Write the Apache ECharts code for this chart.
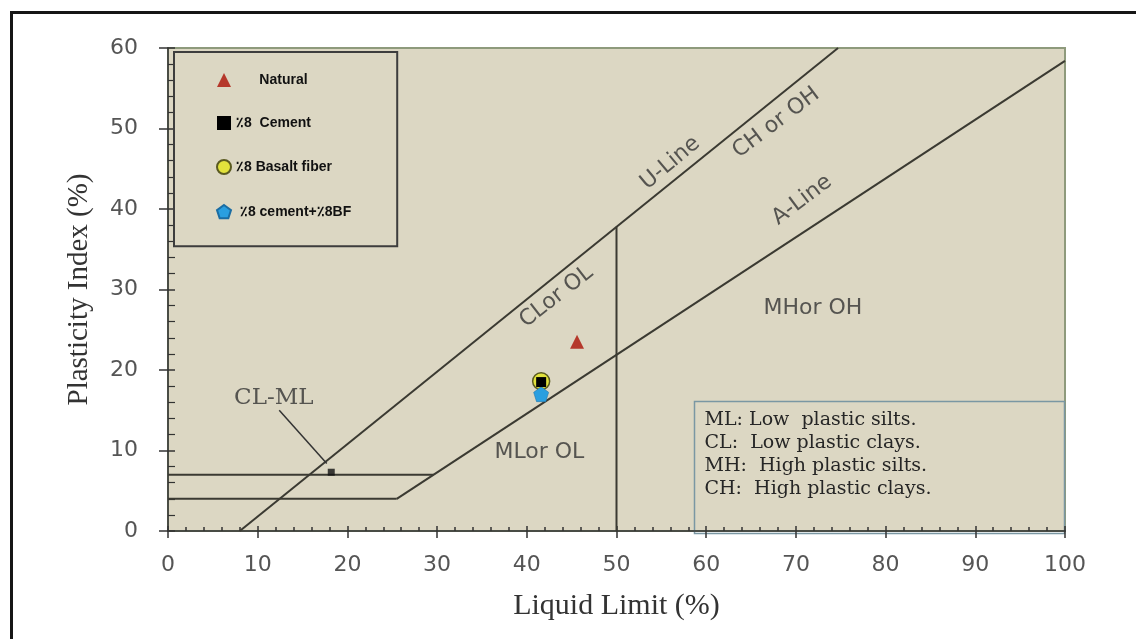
<!DOCTYPE html>
<html><head><meta charset="utf-8">
<script src="https://cdn.jsdelivr.net/npm/echarts@6/dist/echarts.min.js"></script>
<style>html,body{margin:0;padding:0;background:#fff}#c{width:1136px;height:639px}</style>
</head><body><div id="c"></div><script>
// ---- data ----
const seriesNames = ['Natural', '\u066A8  Cement', '\u066A8 Basalt fiber', '\u066A8 cement+\u066A8BF'];
const naturalPts = [[45.6, 23.5]];
const cementPts = [[41.6, 18.5]];
const basaltPts = [[41.6, 18.6]];
const cementBfPts = [[41.6, 17.0]];

// chart boundary lines (Liquid Limit, Plasticity Index)
const uLine = [[8, 0], [74.7, 60]];
const aLine = [[25.5, 4], [100, 58.4]];
const line4 = [[0, 4], [25.5, 4]];
const line7 = [[0, 7], [29.6, 7]];
const line50 = [[50, 0], [50, 37.8]];
const clmlPointer = [[12.4, 15.0], [17.7, 8.4]];
const clmlMark = [[18.2, 7.3]];

// zone labels
const zoneNames = ['U-Line', 'CH or OH', 'A-Line', 'CLor OL', 'MHor OH', 'MLor OL'];
const zoneLL = [56.0, 67.8, 70.7, 43.3, 71.9, 41.4];
const zonePI = [45.7, 50.7, 41.1, 29.1, 27.7, 9.8];
const clmlName = ['CL-ML'];
const clmlLL = [11.8];
const clmlPI = [16.5];

const definitions = ['ML: Low  plastic silts.', 'CL:  Low plastic clays.', 'MH:  High plastic silts.', 'CH:  High plastic clays.'];

// ---- styles ----
const zoneRotate = [40, 37, 37, 38, 0, 0];
const lineColor = '#3b3a32';
const pentagon = 'path://M50,0 L97.6,34.5 L79.4,90.5 L20.6,90.5 L2.4,34.5 Z';

const chart = echarts.init(document.getElementById('c'), null, {renderer: 'canvas'});

function lineSeries(data) {
  return {type: 'line', data: data, symbol: 'none', silent: true, z: 3,
    lineStyle: {color: lineColor, width: 2}, xAxisIndex: 0, yAxisIndex: 0};
}

const zoneData = zoneNames.map((n, i) => ({name: n, value: [zoneLL[i], zonePI[i]],
  label: {rotate: zoneRotate[i]}}));
const clmlData = clmlName.map((n, i) => ({name: n, value: [clmlLL[i], clmlPI[i]]}));

const option = {
  animation: false,
  backgroundColor: '#ffffff',
  grid: {left: 168, right: 71, top: 48, bottom: 108, show: true,
    backgroundColor: '#dcd7c3', borderColor: '#8e9a7c', borderWidth: 2},
  xAxis: [{
    type: 'value', min: 0, max: 100, interval: 10, position: 'bottom',
    name: 'Liquid Limit (%)', nameLocation: 'middle', nameGap: 60,
    nameTextStyle: {fontFamily: 'Liberation Serif', fontSize: 30, color: '#333'},
    axisLine: {show: true, lineStyle: {color: '#333', width: 1.5}},
    axisTick: {show: true, inside: false, length: 7, lineStyle: {color: '#333', width: 1.5}},
    axisLabel: {margin: 23, fontFamily: 'DejaVu Sans', fontSize: 22, color: '#555'},
    splitLine: {show: false}
  }, {
    type: 'value', min: 0, max: 100, interval: 10, position: 'bottom',
    axisLine: {show: false},
    axisTick: {show: true, inside: true, length: 5, lineStyle: {color: '#333', width: 1.5}},
    minorTick: {show: true, splitNumber: 5, length: 4, lineStyle: {color: '#333', width: 1.5}},
    axisLabel: {show: false}, splitLine: {show: false}
  }],
  yAxis: [{
    type: 'value', min: 0, max: 60, interval: 10, position: 'left',
    name: 'Plasticity Index (%)', nameLocation: 'middle', nameGap: 74, nameRotate: 90,
    nameTextStyle: {fontFamily: 'Liberation Serif', fontSize: 29, color: '#333'},
    axisLine: {show: true, lineStyle: {color: '#333', width: 1.5}},
    axisTick: {show: true, inside: false, length: 9, lineStyle: {color: '#333', width: 1.5}},
    axisLabel: {margin: 30, fontFamily: 'DejaVu Sans', fontSize: 22, color: '#555'},
    splitLine: {show: false}
  }, {
    type: 'value', min: 0, max: 60, interval: 10, position: 'left',
    axisLine: {show: false},
    axisTick: {show: true, inside: true, length: 7, lineStyle: {color: '#333', width: 1.5}},
    minorTick: {show: true, splitNumber: 5, length: 7, lineStyle: {color: '#333', width: 1.2}},
    axisLabel: {show: false}, splitLine: {show: false}
  }],
  legend: {
    orient: 'vertical', left: 174, top: 52,
    itemGap: 29, itemWidth: 14, itemHeight: 14,
    padding: [21, 46, 27, 42],
    borderColor: '#3d3d3d', borderWidth: 2, backgroundColor: '#dcd7c3',
    selectedMode: false,
    textStyle: {fontFamily: 'Liberation Sans', fontWeight: 'bold', fontSize: 14, color: '#111'},
    formatter: function (n) { return n === seriesNames[0] ? '      ' + n : (n === seriesNames[3] ? ' ' + n : n); },
    data: [
      {name: seriesNames[0], icon: 'triangle'},
      {name: seriesNames[1], icon: 'rect'},
      {name: seriesNames[2], icon: 'circle'},
      {name: seriesNames[3], icon: pentagon}
    ]
  },
  series: [
    lineSeries(uLine), lineSeries(aLine), lineSeries(line4), lineSeries(line7), lineSeries(line50),
    Object.assign(lineSeries(clmlPointer), {lineStyle: {color: '#333', width: 1.5}}),
    {type: 'scatter', data: clmlMark, symbol: 'rect', symbolSize: 7, silent: true, z: 4,
      itemStyle: {color: '#111'}},
    {type: 'scatter', data: zoneData, symbolSize: 0, silent: true, z: 5,
      label: {show: true, position: 'inside', formatter: '{b}',
        fontFamily: 'DejaVu Sans', fontSize: 22, color: '#333'}},
    {type: 'scatter', data: clmlData, symbolSize: 0, silent: true, z: 5,
      label: {show: true, position: 'inside', formatter: '{b}',
        fontFamily: 'DejaVu Serif', fontSize: 23, color: '#333'}},
    {name: seriesNames[0], type: 'scatter', data: naturalPts, symbol: 'triangle', symbolSize: 14, z: 6,
      itemStyle: {color: '#b5382b', opacity: 1}},
    {name: seriesNames[2], type: 'scatter', data: basaltPts, symbol: 'circle', symbolSize: 17, z: 6,
      itemStyle: {color: '#e2e23c', borderColor: '#5a5a20', borderWidth: 1.5, opacity: 1}},
    {name: seriesNames[1], type: 'scatter', data: cementPts, symbol: 'rect', symbolSize: 10, z: 7,
      itemStyle: {color: '#000', opacity: 1}},
    {name: seriesNames[3], type: 'scatter', data: cementBfPts, symbol: pentagon, symbolSize: 15, z: 6,
      itemStyle: {color: '#2a9fe0', borderColor: '#1b6da3', borderWidth: 0.5, opacity: 1}}
  ],
  graphic: [
    {type: 'rect', left: 9, top: 10, shape: {width: 1200, height: 700}, silent: true, z: 0,
      style: {fill: 'none', stroke: '#161616', lineWidth: 3}},
    {type: 'group', left: 692, top: 399, z: 10, children: [
      {type: 'rect', shape: {x: 0, y: 0, width: 370, height: 132},
        style: {fill: 'none', stroke: '#7a97a3', lineWidth: 1.5}}
    ].concat(definitions.map((t, i) => ({
      type: 'text', x: 10, y: 19 + i * 23,
      style: {text: t, font: '19px "DejaVu Serif"', fill: '#262626', textVerticalAlign: 'middle'}
    })))}
  ]
};
chart.setOption(option);
</script></body></html>
